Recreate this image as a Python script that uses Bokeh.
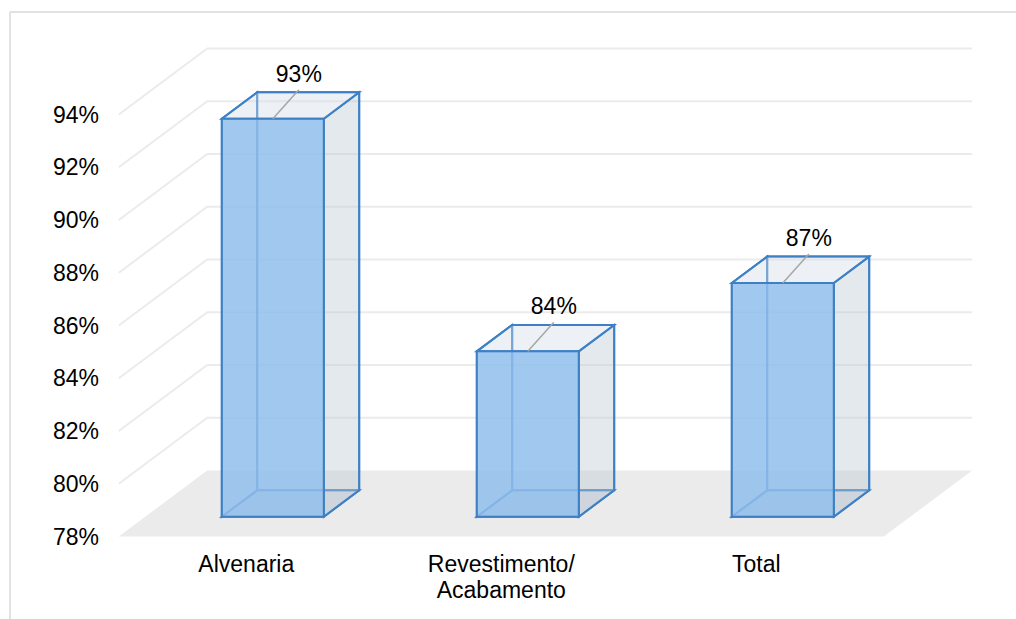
from bokeh.plotting import figure
from bokeh.models import ColumnDataSource, Range1d
from bokeh.embed import file_html
from bokeh.resources import INLINE
from bokeh.core.properties import value

# ---------------- data ----------------
categories = ["Alvenaria", "Revestimento/\nAcabamento", "Total"]
values = [93.09, 84.27, 86.86]          # percent
value_labels = ["93%", "84%", "87%"]
y_ticks = [78, 80, 82, 84, 86, 88, 90, 92, 94]
y_tick_labels = ["78%", "80%", "82%", "84%", "86%", "88%", "90%", "92%", "94%"]

# ---------------- layout constants (pixels) ----------------
W, H = 1016, 619
X0_PX = 118.3      # front-left corner of floor
CAT_PX = 255.0     # width of one category on the front plane
Y0_PX = 536.0      # pixel row of the axis minimum on the front plane
PCT_PX = 26.375    # pixels per 1 %
DEPTH_DX_PX, DEPTH_DY_PX = 88.4, 66.0
Y_MIN = y_ticks[0]

DX = DEPTH_DX_PX / CAT_PX
DY = DEPTH_DY_PX / PCT_PX


def px2x(px):
    return (px - X0_PX) / CAT_PX


def py2y(py):
    return Y_MIN + (Y0_PX - py) / PCT_PX


def proj(x, y, z):
    return x + z * DX, y + z * DY


FONT = value("Liberation Sans")
FS = "23px"

p = figure(width=W, height=H,
           x_range=Range1d(px2x(0), px2x(W)),
           y_range=Range1d(py2y(H), py2y(0)),
           x_axis_type=None, y_axis_type=None,
           toolbar_location=None, output_backend="svg",
           min_border=0, outline_line_color=None,
           background_fill_color="white", border_fill_color="white")

# outer chart-area border (top and left visible)
p.segment(x0=[px2x(9.5), px2x(9.5)], y0=[py2y(11.5), py2y(11.5)],
          x1=[px2x(9.5), px2x(W)], y1=[py2y(H), py2y(11.5)],
          line_color="#d9d9d9", line_width=1.5)

ncat = len(categories)

# floor
fx, fy = [], []
for (x, z) in [(0, 0), (ncat, 0), (ncat, 1), (0, 1)]:
    a, b = proj(x, Y_MIN, z)
    fx.append(a)
    fy.append(b)
p.patch(fx, fy, fill_color="#ebebeb", line_color=None)

# gridlines on left wall and back wall
gxs, gys = [], []
for t in y_ticks[1:]:
    pts = [proj(0, t, 0), proj(0, t, 1), proj(ncat, t, 1)]
    gxs.append([q[0] for q in pts])
    gys.append([q[1] for q in pts])
p.multi_line(gxs, gys, line_color="#ebebeb", line_width=2)

# bars as transparent boxes
faces = {k: ([], []) for k in ["back", "bottom", "left", "right", "top", "front"]}
for i, v in enumerate(values):
    x0, x1 = i + 0.3, i + 0.7
    z0, z1 = 0.3, 0.7
    y0, y1 = Y_MIN, v
    corners = {
        "back": [(x0, y0, z1), (x1, y0, z1), (x1, y1, z1), (x0, y1, z1)],
        "bottom": [(x0, y0, z0), (x1, y0, z0), (x1, y0, z1), (x0, y0, z1)],
        "left": [(x0, y0, z0), (x0, y0, z1), (x0, y1, z1), (x0, y1, z0)],
        "right": [(x1, y0, z0), (x1, y0, z1), (x1, y1, z1), (x1, y1, z0)],
        "top": [(x0, y1, z0), (x1, y1, z0), (x1, y1, z1), (x0, y1, z1)],
        "front": [(x0, y0, z0), (x1, y0, z0), (x1, y1, z0), (x0, y1, z0)],
    }
    for k, pts in corners.items():
        pr = [proj(*c) for c in pts]
        faces[k][0].append([q[0] for q in pr])
        faces[k][1].append([q[1] for q in pr])

EDGE = "#3d80c5"
styles = {
    "back": dict(fill_color=None),
    "bottom": dict(fill_color="#b4c0cc", fill_alpha=0.3),
    "left": dict(fill_color=None),
    "right": dict(fill_color="#bcc8d5", fill_alpha=0.4),
    "top": dict(fill_color="#d2dce6", fill_alpha=0.4),
    "front": dict(fill_color="#91beeb", fill_alpha=0.85),
}
for k in ["back", "bottom", "left", "right", "top", "front"]:
    p.patches(faces[k][0], faces[k][1], line_color=EDGE, line_width=2,
              line_join="miter", **styles[k])

# data labels with leader lines
cx = [proj(i + 0.5, v, 0.3)[0] for i, v in enumerate(values)]
cy = [proj(i + 0.5, v, 0.3)[1] for i, v in enumerate(values)]
lx = [c + 26 / CAT_PX for c in cx]
ly = [c + 45 / PCT_PX for c in cy]
p.segment(x0=cx, y0=cy, x1=lx, y1=[c - 16 / PCT_PX for c in ly],
          line_color="#a6a6a6", line_width=1.5)
p.text(x=lx, y=ly, text=value_labels, text_align="center",
       text_baseline="middle", text_font=FONT, text_font_size=FS,
       text_color="#000000")

# y tick labels
p.text(x=[px2x(98.5)] * len(y_ticks), y=y_ticks, text=y_tick_labels,
       text_align="right", text_baseline="middle", text_font=FONT,
       text_font_size=FS, text_color="#000000")

# category labels
p.text(x=[i + 0.5 for i in range(ncat)], y=[py2y(550)] * ncat,
       text=categories, text_align="center", text_baseline="top",
       text_line_height=1.0, text_font=FONT, text_font_size=FS,
       text_color="#000000")

open("out.html", "w").write(file_html(p, INLINE))
